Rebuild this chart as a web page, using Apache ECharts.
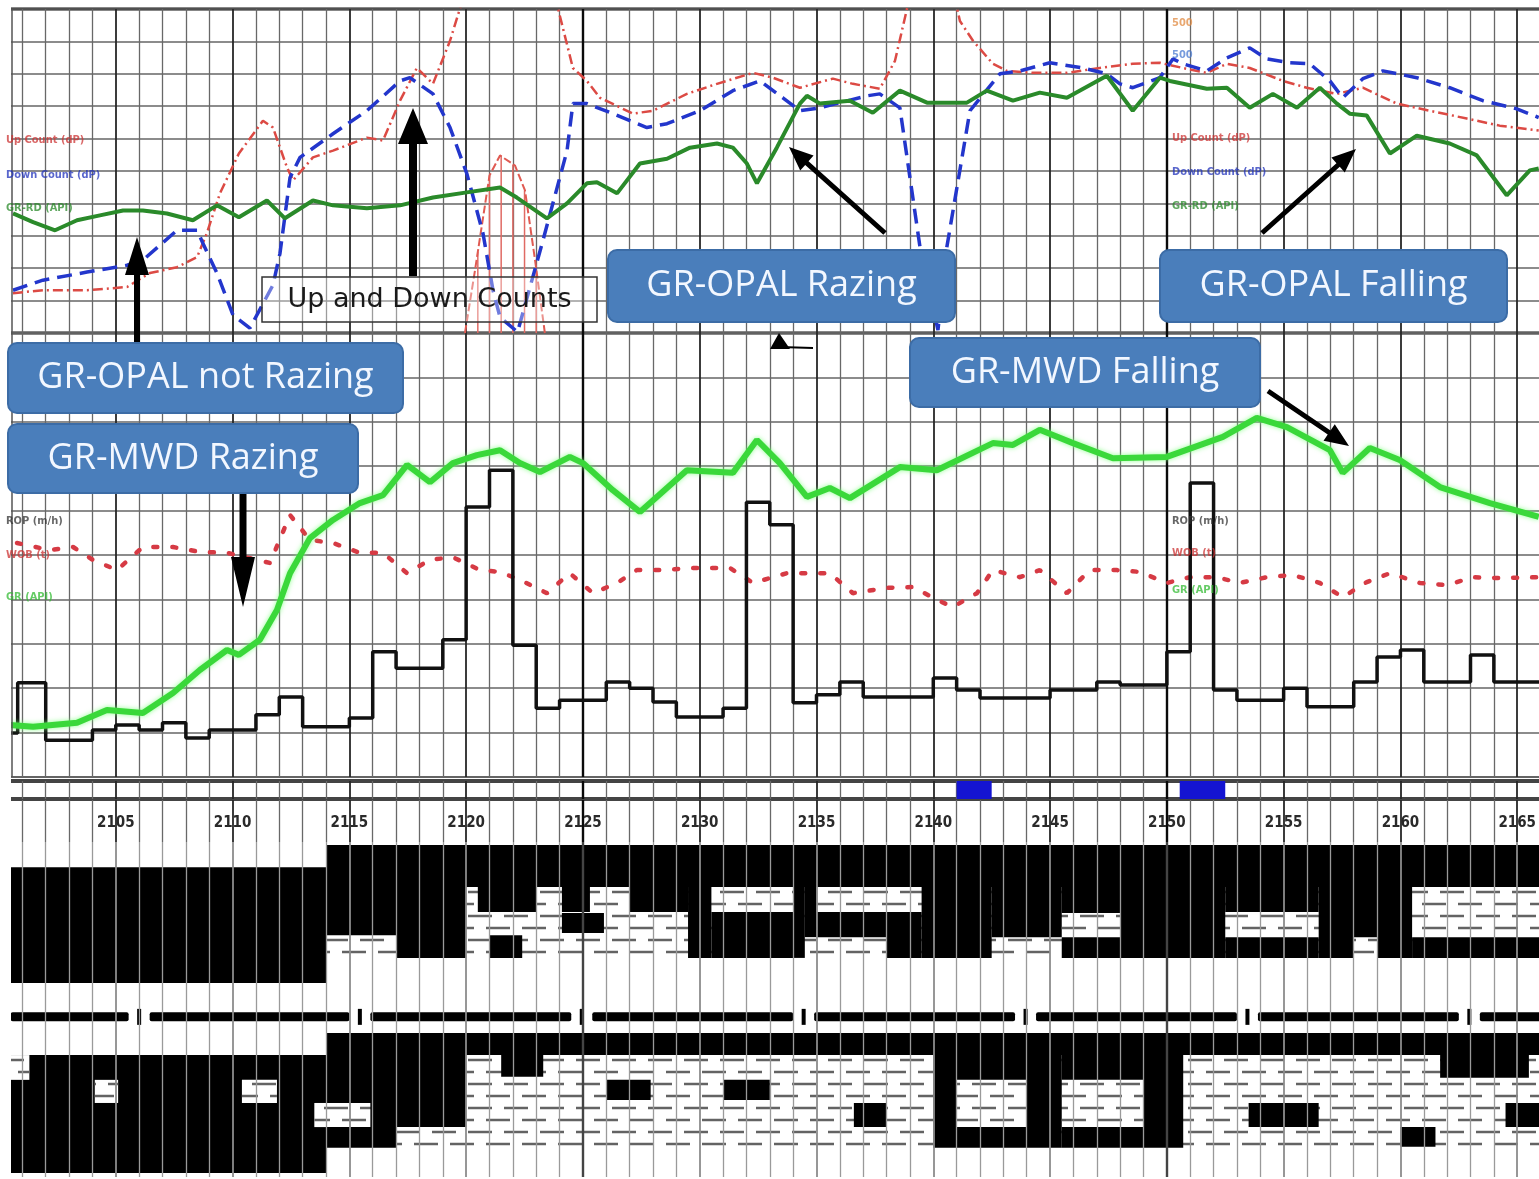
<!DOCTYPE html>
<html>
<head>
<meta charset="utf-8">
<title>GR-OPAL / GR-MWD</title>
<script src="https://cdn.jsdelivr.net/npm/echarts@6/dist/echarts.min.js"></script>
<style>
  html, body { margin: 0; padding: 0; background: #fff; }
  #chart { width: 1539px; height: 1179px; }
</style>
</head>
<body>
<div id="chart"></div>
<script>
// depth range of the log (m)
var depthMin = 2100, depthMax = 2170;

// ---- upper track, values in % of track width ----
var upCount = [[2100.6,12.3],[2101.88,13.2],[2103.77,13.2],[2105.48,14.2],[2106.46,18.5],[2107.62,20.3],[2108.48,23.4],[2108.9,30.8],[2109.46,43.1],[2110.27,55.4],[2111.3,65.5],[2111.73,63.4],[2112.33,51.1],[2112.59,47.1],[2113.44,54.2],[2114.3,56.3],[2115.75,60.3],[2116.44,59.4],[2117.17,71.7],[2117.89,81.8],[2118.58,76.9],[2119.31,90.2],[2119.9,104],[2120,null],[2123.8,104],[2124.14,94.2],[2124.57,81.8],[2125.17,77.8],[2125.73,72.6],[2127.14,67.7],[2128.0,68.6],[2129.45,73.8],[2130.74,76.9],[2132.28,80.3],[2133.13,78.8],[2134.29,75.7],[2135.7,78.5],[2136.56,76.9],[2137.71,75.4],[2138.36,84],[2139.0,104],[2139.5,null],[2140.9,104],[2141.14,96.3],[2141.7,90.2],[2142.55,83.1],[2143.15,80.9],[2144.26,80.3],[2145.72,80.3],[2147.13,81.8],[2148.54,83.1],[2149.7,83.4],[2150.68,81.8],[2151.71,80.3],[2152.57,83.1],[2153.55,81.8],[2154.97,77.8],[2155.99,75.7],[2157.28,73.8],[2158.39,75.7],[2159.85,70.8],[2161.26,68.6],[2162.84,66.2],[2164.25,64.0],[2165.92,62.5]];

var downCount = [[2100.6,13.2],[2101.88,16.3],[2103.77,18.8],[2105.48,20.9],[2106.16,22.5],[2107.62,31.7],[2108.48,31.7],[2108.73,27.7],[2109.33,18.5],[2110.02,5.5],[2110.74,1.5],[2111.73,14.8],[2112.03,24.6],[2112.46,48.0],[2112.89,54.2],[2114.3,61.5],[2115.75,68.6],[2117.17,77.8],[2117.59,78.8],[2118.58,73.8],[2119.31,63.4],[2120.03,49.2],[2120.72,30.8],[2121.15,13.2],[2121.45,4.9],[2122.2,0.3],[2123.29,28.6],[2124.32,56.3],[2124.57,70.8],[2125.17,70.8],[2126.28,67.7],[2127.74,63.4],[2128.6,64.6],[2130.01,68.6],[2131.42,74.8],[2132.58,77.8],[2133.56,72.6],[2134.29,68.6],[2135.15,69.5],[2137.16,73.2],[2137.71,73.8],[2138.57,69.5],[2139.43,26.5],[2140.2,0.9],[2140.58,26.5],[2141.57,68.6],[2142.85,80.0],[2143.71,80.9],[2144.99,83.4],[2146.4,81.8],[2147.43,80.0],[2147.99,76.9],[2148.54,75.7],[2149.7,78.8],[2150.26,84.6],[2150.68,83.1],[2151.71,80.9],[2152.57,84.9],[2153.55,88.0],[2154.28,84.6],[2155.27,83.4],[2156.12,83.1],[2156.98,77.8],[2157.53,72.6],[2158.39,78.5],[2159.25,80.9],[2160.7,78.8],[2162.11,75.7],[2163.53,71.7],[2164.98,69.2],[2165.92,66.5]];

var grOpal = [[2100.6,36.9],[2101.46,34.2],[2102.4,31.7],[2103.34,34.8],[2104.32,36.3],[2105.31,37.8],[2106.16,37.8],[2107.19,36.9],[2108.3,34.8],[2109.33,39.4],[2110.27,35.7],[2111.47,40.9],[2112.24,35.4],[2113.44,40.9],[2114.3,39.4],[2115.75,38.5],[2117.17,39.4],[2118.58,41.8],[2120.03,43.4],[2121.45,44.9],[2122.17,41.8],[2123.46,35.4],[2124.32,40.0],[2125.17,46.2],[2125.6,46.5],[2126.46,43.1],[2127.44,52.3],[2128.6,53.8],[2129.58,57.2],[2130.74,58.5],[2131.42,57.2],[2132.02,52.3],[2132.45,46.2],[2133.3,57.2],[2134.29,70.8],[2134.59,73.2],[2135.15,70.8],[2136.43,71.7],[2137.41,68.0],[2138.57,74.8],[2139.73,71.1],[2141.44,71.1],[2142.29,74.8],[2143.41,71.7],[2144.56,74.2],[2145.72,72.6],[2147.43,79.4],[2148.54,68.6],[2149.7,78.8],[2150.13,77.8],[2151.71,75.4],[2152.57,75.7],[2153.55,69.5],[2154.54,73.8],[2155.57,69.5],[2156.55,75.7],[2157.28,70.8],[2157.83,67.7],[2158.56,67.1],[2159.55,55.4],[2160.7,60.9],[2162.11,58.5],[2163.27,54.8],[2164.55,42.5],[2165.54,50.2],[2165.92,50.8]];

// hatched up-count bump
var upBump = [[2119.95,0],[2120.38,19.4],[2121.0,48.6],[2121.45,54.8],[2122.09,51.7],[2122.52,44],[2122.95,22.5],[2123.37,0]];
var upBumpHatch = [[2120.5,25],[2121.0,48.6],[2121.5,54.8],[2122.0,52],[2122.5,44],[2123.0,20]];

// ---- middle track, values in % of track width ----
var grMwd = [[2100.47,11.7],[2101.46,11.3],[2103.34,12.2],[2104.62,15.1],[2106.16,14.4],[2107.45,18.9],[2108.6,24.1],[2109.76,28.6],[2110.27,27.5],[2111.17,30.9],[2111.9,37.6],[2112.46,45.9],[2113.31,53.8],[2114.3,57.9],[2115.45,61.7],[2116.44,63.5],[2117.47,70.3],[2118.45,66.4],[2119.43,70.7],[2120.46,72.5],[2121.45,73.6],[2122.3,70.7],[2123.16,68.7],[2124.44,72.1],[2125.0,70.7],[2126.28,64.6],[2127.44,59.7],[2129.45,69.1],[2131.42,68.5],[2132.45,75.9],[2133.43,70.7],[2134.59,63.1],[2135.57,65.1],[2136.43,62.8],[2138.57,69.8],[2140.15,69.1],[2142.55,75.2],[2143.41,74.8],[2144.56,78.2],[2145.98,75.2],[2147.69,71.8],[2150.0,72.1],[2152.4,76.6],[2153.85,80.9],[2155.14,78.8],[2156.98,73.6],[2157.53,68.5],[2158.69,74.1],[2159.97,71.4],[2161.69,65.3],[2163.83,61.7],[2165.92,58.6]];

var wob = [[2100.77,52.7],[2102.18,51.1],[2103.17,51.8],[2104.02,48.9],[2105.05,46.6],[2106.16,51.8],[2107.45,51.8],[2108.6,50.7],[2109.76,50.5],[2111.6,48.2],[2112.46,59.0],[2113.31,53.4],[2114.3,52.7],[2115.45,50.5],[2116.44,50.5],[2117.47,45.9],[2118.45,48.9],[2119.43,49.5],[2120.59,46.6],[2121.45,46.2],[2122.3,44.4],[2123.46,41.4],[2124.44,45.9],[2125.43,41.4],[2126.46,43.7],[2127.31,46.6],[2128.3,46.6],[2129.88,47.1],[2131.29,47.1],[2132.28,43.7],[2133.73,45.9],[2135.57,45.9],[2136.56,41.4],[2138.01,42.6],[2139.13,42.8],[2140.15,39.9],[2140.84,38.3],[2141.87,41.4],[2142.55,46.6],[2143.71,45.0],[2144.56,46.6],[2145.72,41.4],[2146.7,46.6],[2147.86,46.6],[2148.84,46.2],[2150.0,43.7],[2150.98,45.0],[2152.14,45.0],[2153.12,43.7],[2154.28,45.0],[2155.39,45.5],[2156.55,43.7],[2157.53,40.5],[2158.56,43.9],[2159.55,45.9],[2160.83,43.7],[2161.99,43.2],[2163.1,45.0],[2164.25,44.8],[2165.92,45.0]];

// rate of penetration, one value per depth step (value holds until next depth)
var rop = [[2100.47,9.9],[2100.8,21.2],[2102,8.3],[2104,10.6],[2105,11.7],[2106,10.6],[2107,12.2],[2108,8.8],[2109,10.6],[2111,14.0],[2112,18.0],[2113,11.3],[2115,13.3],[2116,28.2],[2117,24.5],[2119,30.9],[2120,60.8],[2121,69.1],[2122,29.7],[2123,15.5],[2124,17.3],[2126,21.4],[2127,20.0],[2128,16.9],[2129,13.5],[2131,15.5],[2132,61.9],[2133,56.8],[2134,16.7],[2135,18.5],[2136,21.4],[2137,18.0],[2140,22.3],[2141,19.6],[2142,17.8],[2145,19.6],[2147,21.4],[2148,20.7],[2150,28.2],[2151,66.2],[2152,19.6],[2153,17.3],[2155,20.0],[2156,15.8],[2158,21.4],[2159,27.0],[2160,28.6],[2161,21.4],[2163,27.5],[2164,21.4],[2166,21.4]];

// blue flags in the marker strip (depth from, depth to)
var flagged = [[2141.0, 2142.5], [2150.55, 2152.5]];

// ---- lithology: depth from, depth to, top, bottom (0-100 across the panel) ----
var limestoneBeds = [[2114, 2170, 13.4, 34.6], [2114, 2170, 63.6, 91.3]];
var limestoneLenses = [[2100.5, 2101.3, 63.6, 71.0], [2104.1, 2105.1, 71.0, 77.9], [2110.4, 2111.9, 71.0, 77.9], [2113.5, 2114, 77.9, 85.1]];
var shale = [
  [2100, 2114, 7.5, 42.1], [2114, 2170, 0.9, 13.4],
  [2114, 2117, 13.4, 27.8], [2117, 2120, 13.4, 34.6], [2120.5, 2123, 13.4, 20.9], [2121, 2122.4, 27.8, 34.6],
  [2124.1, 2125.3, 13.4, 20.9], [2124.1, 2125.9, 21.2, 27.2], [2127, 2129.5, 13.4, 20.9], [2129.5, 2130.5, 13.4, 34.6],
  [2130.5, 2134, 20.9, 34.6], [2134, 2134.5, 13.4, 34.6], [2134.5, 2135, 13.4, 28.4], [2135, 2138, 20.9, 28.4],
  [2138, 2139.5, 20.9, 34.6], [2139.5, 2142.5, 13.4, 34.6], [2142.5, 2145.5, 13.4, 28.4], [2145.5, 2148, 13.4, 21.2],
  [2145.5, 2148, 28.4, 34.6], [2148, 2152.5, 13.4, 34.6], [2152.5, 2156.5, 13.4, 20.9], [2152.5, 2156.5, 28.4, 34.6],
  [2156.5, 2158, 13.4, 34.6], [2158, 2159, 13.4, 28.4], [2159, 2160.5, 13.4, 34.6], [2160.5, 2170, 28.4, 34.6],
  [2100, 2114, 63.6, 98.8], [2114, 2170, 57.0, 63.6],
  [2114, 2117, 63.6, 77.9], [2115.9, 2117, 77.9, 85.1], [2114, 2117, 85.1, 91.3], [2117, 2120, 63.6, 85.1],
  [2121.5, 2123.3, 63.6, 70.1], [2126, 2127.9, 71.0, 77.0], [2131, 2133, 71.0, 77.0], [2136.6, 2138, 77.9, 85.1],
  [2140, 2141, 63.6, 91.3], [2141, 2144, 63.6, 71.0], [2141, 2144, 85.1, 91.3], [2144, 2145.5, 63.6, 91.3],
  [2145.5, 2149, 63.6, 71.0], [2145.5, 2149, 85.1, 91.3], [2149, 2150.7, 63.6, 91.3], [2153.5, 2156.5, 77.9, 85.1],
  [2160, 2161.5, 85.1, 91.0], [2161.7, 2165.5, 63.6, 70.4], [2164.5, 2170, 77.9, 85.1]
];
// depth marks on the dashed bar between the lithology columns
var depthMarks = [2106.0, 2115.45, 2124.95, 2134.45, 2143.95, 2153.45, 2162.95];
var markRow = 52.2;

// ---------------------------------------------------------------
var panels = [
  {top: 9, height: 324, border: ['#111', 3]},
  {top: 333, height: 444, border: ['#333', 1.5]},
  {top: 781, height: 18, border: ['#444', 4]},
  {top: 800, height: 42, border: null},
  {top: 842, height: 335, border: null}
];

var grids = [], xAxes = [], yAxes = [];
panels.forEach(function (p, i) {
  var litho = i === 4;
  grids.push({
    left: -1, right: -95, top: p.top, height: p.height, outerBoundsMode: 'none',
    show: !!p.border, borderColor: p.border ? p.border[0] : 'transparent',
    borderWidth: p.border ? p.border[1] : 0, backgroundColor: 'transparent'
  });
  xAxes.push({
    type: 'value', gridIndex: i, min: depthMin, max: depthMax, interval: 5,
    position: i === 3 ? 'top' : 'bottom', z: litho ? 10 : 0,
    axisLine: {show: false}, axisTick: {show: false},
    axisLabel: i === 3 ? {
      show: true, inside: true, margin: 16, showMinLabel: false, showMaxLabel: false,
      formatter: function (v) { return String(v); },
      color: '#2a2a2a', fontSize: 15, fontWeight: 'bold', fontFamily: 'DejaVu Sans Condensed'
    } : {show: false},
    splitLine: {show: true, lineStyle: {color: litho ? '#8c8c8c' : '#262626', width: 1.8}},
    minorTick: {show: false, splitNumber: 5},
    minorSplitLine: {show: true, lineStyle: {color: litho ? '#9a9a9a' : '#686868', width: 1.3}}
  });
  xAxes.push({
    type: 'value', gridIndex: i, min: depthMin, max: depthMax, interval: 25,
    position: i === 3 ? 'bottom' : 'top', z: litho ? 10 : 0,
    axisLine: {show: false}, axisTick: {show: false}, axisLabel: {show: false},
    splitLine: {show: true, lineStyle: {color: litho ? '#444' : '#0a0a0a', width: 2.4}}
  });
  var curves = i < 2;
  yAxes.push({
    type: 'value', gridIndex: i, min: 0, max: curves || litho ? 100 : 1, interval: curves ? 10 : null,
    inverse: litho,
    axisLine: {show: false}, axisTick: {show: false}, axisLabel: {show: false},
    splitLine: {show: curves, lineStyle: {color: '#666', width: 1.5}}
  });
});

function boxOf(api) {
  var a = api.coord([api.value(0), api.value(2)]);
  var b = api.coord([api.value(1), api.value(3)]);
  return {x: a[0], y: a[1], width: b[0] - a[0], height: b[1] - a[1]};
}

function renderShale(params, api) {
  return {type: 'rect', shape: boxOf(api), style: {fill: '#000'}};
}

function renderLimestone(params, api) {
  var r = boxOf(api);
  var kids = [{type: 'rect', shape: r, style: {fill: '#fff'}}];
  var k0 = Math.ceil((r.y - 4) / 12);
  for (var k = k0; 4 + 12 * k < r.y + r.height - 2; k++) {
    var y = 4 + 12 * k;
    if (y < r.y + 2) continue;
    kids.push({
      type: 'line', shape: {x1: r.x, y1: y, x2: r.x + r.width, y2: y},
      style: {stroke: '#636363', lineWidth: 2.5, lineDash: [24, 12], lineDashOffset: (r.x + (k % 2 ? 18 : 0)) % 36}
    });
  }
  return {type: 'group', children: kids};
}

function renderFlag(params, api) {
  var a = api.coord([api.value(0), 1]);
  var b = api.coord([api.value(1), 0]);
  return {type: 'rect', shape: {x: a[0], y: a[1], width: b[0] - a[0], height: b[1] - a[1]}, style: {fill: '#1414d2'}};
}

var markSegments = [];
var prev = 2100.5;
depthMarks.forEach(function (m) { markSegments.push([prev, m - 0.45]); prev = m + 0.45; });
markSegments.push([prev, depthMax]);

function renderSegment(params, api) {
  var a = api.coord([api.value(0), markRow]);
  var b = api.coord([api.value(1), markRow]);
  return {type: 'rect', shape: {x: a[0], y: a[1] - 4.5, width: b[0] - a[0], height: 9, r: 2}, style: {fill: '#000'}};
}
function renderMark(params, api) {
  var a = api.coord([api.value(0), markRow]);
  return {type: 'rect', shape: {x: a[0] - 2, y: a[1] - 8, width: 4, height: 16}, style: {fill: '#000'}};
}

var series = [
  {name: 'Up Count', type: 'line', xAxisIndex: 0, yAxisIndex: 0, data: upCount, showSymbol: false, connectNulls: false,
   lineStyle: {color: '#dc4a44', width: 2.5, type: [10, 4, 2, 4]}, z: 3},
  {name: 'Up Count bump', type: 'line', xAxisIndex: 0, yAxisIndex: 0, data: upBump, showSymbol: false,
   lineStyle: {color: '#e05a52', width: 2, type: [8, 3]}, z: 3},
  {name: 'Up Count hatch', type: 'bar', xAxisIndex: 0, yAxisIndex: 0, data: upBumpHatch, barWidth: 1.5,
   itemStyle: {color: '#e06a64'}, z: 2},
  {name: 'Down Count', type: 'line', xAxisIndex: 0, yAxisIndex: 0, data: downCount, showSymbol: false,
   lineStyle: {color: '#2336cc', width: 3.5, type: [15, 8]}, z: 3},
  {name: 'GR-OPAL', type: 'line', xAxisIndex: 0, yAxisIndex: 0, data: grOpal, showSymbol: false,
   lineStyle: {color: '#2a8a2a', width: 4}, z: 4},

  {name: 'GR-MWD', type: 'line', xAxisIndex: 2, yAxisIndex: 1, data: grMwd, showSymbol: false,
   lineStyle: {color: '#3ad83a', width: 6, shadowBlur: 5, shadowColor: 'rgba(120,255,120,0.8)'}, z: 4},
  {name: 'WOB', type: 'line', xAxisIndex: 2, yAxisIndex: 1, data: wob, showSymbol: false,
   lineStyle: {color: '#d63a44', width: 4.5, type: [4, 15], cap: 'round'}, z: 3},
  {name: 'ROP', type: 'line', step: 'end', xAxisIndex: 2, yAxisIndex: 1, data: rop, showSymbol: false,
   lineStyle: {color: '#111', width: 3.5}, z: 3},

  {name: 'Flags', type: 'custom', xAxisIndex: 4, yAxisIndex: 2, data: flagged, renderItem: renderFlag, z: 3},

  {name: 'Limestone', type: 'custom', xAxisIndex: 8, yAxisIndex: 4, data: limestoneBeds, renderItem: renderLimestone,
   encode: {x: [0, 1], y: [2, 3]}, z: 2},
  {name: 'Shale', type: 'custom', xAxisIndex: 8, yAxisIndex: 4, data: shale, renderItem: renderShale,
   encode: {x: [0, 1], y: [2, 3]}, z: 3},
  {name: 'Limestone lenses', type: 'custom', xAxisIndex: 8, yAxisIndex: 4, data: limestoneLenses, renderItem: renderLimestone,
   encode: {x: [0, 1], y: [2, 3]}, z: 4},
  {name: 'Mark bar', type: 'custom', xAxisIndex: 8, yAxisIndex: 4, data: markSegments, renderItem: renderSegment,
   encode: {x: [0, 1]}, z: 4},
  {name: 'Marks', type: 'custom', xAxisIndex: 8, yAxisIndex: 4, data: depthMarks.map(function (m) { return [m]; }),
   renderItem: renderMark, encode: {x: 0}, z: 4}
];

// ---- annotations ----
function callout(x, y, w, h, label) {
  return {
    type: 'rect', z: 100, shape: {x: x, y: y, width: w, height: h, r: 9},
    style: {fill: '#4a7ebb', stroke: '#3c6ca6', lineWidth: 2},
    textContent: {z: 101, style: {text: label, fill: '#f2f7ff', font: '36px "Open Sans"'}},
    textConfig: {position: 'inside'}
  };
}
function arrow(x1, y1, x2, y2, w, hl, hw) {
  var dx = x2 - x1, dy = y2 - y1, L = Math.sqrt(dx * dx + dy * dy);
  var ux = dx / L, uy = dy / L, px = -uy, py = ux;
  var bx = x2 - ux * hl, by = y2 - uy * hl;
  return {
    type: 'polygon', z: 100, shape: {points: [
      [x1 + px * w / 2, y1 + py * w / 2], [bx + px * w / 2, by + py * w / 2], [bx + px * hw / 2, by + py * hw / 2],
      [x2, y2], [bx - px * hw / 2, by - py * hw / 2], [bx - px * w / 2, by - py * w / 2], [x1 - px * w / 2, y1 - py * w / 2]
    ]}, style: {fill: '#000'}
  };
}
function tag(x, y, text, color) {
  return {type: 'text', z: 60, x: x, y: y,
    style: {text: text, fill: color, font: 'bold 11px "DejaVu Sans Condensed"', opacity: 0.75}};
}

var graphics = [
  {type: 'rect', z: 50, shape: {x: 0, y: 0, width: 11, height: 1179}, style: {fill: '#fff'}},
  {type: 'line', z: 51, shape: {x1: 12, y1: 9, x2: 12, y2: 777}, style: {stroke: '#555', lineWidth: 1.5}},
  tag(6, 135, 'Up Count (dP)', '#cc3333'), tag(6, 170, 'Down Count (dP)', '#2233bb'), tag(6, 203, 'GR-RD (API)', '#2a8a2a'),
  tag(1172, 133, 'Up Count (dP)', '#cc3333'), tag(1172, 167, 'Down Count (dP)', '#2233bb'), tag(1172, 201, 'GR-RD (API)', '#2a8a2a'),
  tag(6, 516, 'ROP (m/h)', '#333'), tag(6, 550, 'WOB (t)', '#cc3333'), tag(6, 592, 'GR (API)', '#33bb33'),
  tag(1172, 516, 'ROP (m/h)', '#333'), tag(1172, 548, 'WOB (t)', '#cc3333'), tag(1172, 585, 'GR (API)', '#33bb33'),
  tag(1172, 18, '500', '#e08a40'), tag(1172, 50, '500', '#4a7ad0'),
  {type: 'rect', z: 100, shape: {x: 262, y: 277, width: 335, height: 45},
   style: {fill: 'rgba(255,255,255,0.35)', stroke: '#333', lineWidth: 1.5},
   textContent: {z: 101, style: {text: 'Up and Down Counts', fill: '#1a1a1a', font: '27px "DejaVu Sans"'}},
   textConfig: {position: 'inside'}},
  arrow(137, 343, 137, 237, 6, 38, 24),
  arrow(413, 276, 413, 108, 8, 36, 30),
  arrow(243, 494, 243, 607, 7, 50, 24),
  arrow(885, 233, 789, 147, 5, 24, 20),
  arrow(1262, 233, 1356, 149, 5, 24, 20),
  arrow(1268, 391, 1349, 446, 5, 24, 20),
  {type: 'polygon', z: 100, shape: {points: [[770, 349], [790, 349], [779, 333]]}, style: {fill: '#000'}},
  {type: 'line', z: 100, shape: {x1: 780, y1: 347, x2: 813, y2: 348}, style: {stroke: '#000', lineWidth: 2}},
  callout(8, 343, 395, 70, 'GR-OPAL not Razing'),
  callout(8, 424, 350, 69, 'GR-MWD Razing'),
  callout(608, 250, 347, 72, 'GR-OPAL Razing'),
  callout(910, 338, 350, 69, 'GR-MWD Falling'),
  callout(1160, 250, 347, 72, 'GR-OPAL Falling')
];

var chart = echarts.init(document.getElementById('chart'));
chart.setOption({
  animation: false,
  backgroundColor: '#fff',
  grid: grids,
  xAxis: xAxes,
  yAxis: yAxes,
  series: series,
  graphic: graphics
});
window.onresize = function () { chart.resize(); };
</script>
</body>
</html>
